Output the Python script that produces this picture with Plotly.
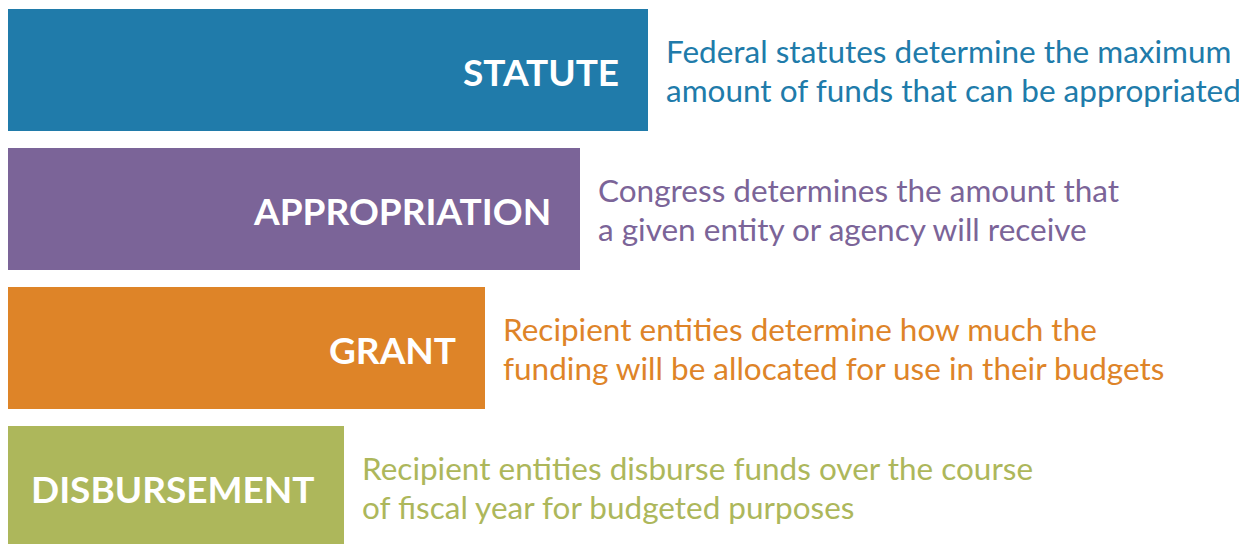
import plotly.graph_objects as go

stages = ["STATUTE", "APPROPRIATION", "GRANT", "DISBURSEMENT"]
lengths = [640, 572, 477, 336]
colors = ["#207BAA", "#7B6498", "#DE8428", "#ADB75B"]
desc_line1 = [
    "Federal statutes determine the maximum",
    "Congress determines the amount that",
    "Recipient entities determine how much the",
    "Recipient entities disburse funds over the course",
]
desc_line2 = [
    "amount of funds that can be appropriated",
    "a given entity or agency will receive",
    "funding will be allocated for use in their budgets",
    "of fiscal year for budgeted purposes",
]

ypos = list(range(len(stages)))

fig = go.Figure()
fig.add_trace(go.Bar(
    x=lengths, y=ypos, orientation="h",
    marker=dict(color=colors, line=dict(width=0)),
    width=0.878, hoverinfo="skip", showlegend=False,
))

annotations = []
for i, (s, l, c, d1, d2) in enumerate(zip(stages, lengths, colors, desc_line1, desc_line2)):
    annotations.append(dict(
        x=l, y=i, xref="x", yref="y", text="<b>" + s + "</b>",
        showarrow=False, xanchor="right", yanchor="middle", xshift=-27, yshift=-2,
        font=dict(family="Lato", size=37, color="white"),
    ))
    for txt, ys in ((d1, 19), (d2, -20)):
        annotations.append(dict(
            x=l, y=i, xref="x", yref="y", text=txt, align="left",
            showarrow=False, xanchor="left", yanchor="middle", xshift=16, yshift=ys,
            font=dict(family="Lato", size=31.5, color=c),
        ))

fig.update_layout(
    width=1247, height=544,
    margin=dict(l=0, r=0, t=0, b=0),
    paper_bgcolor="white", plot_bgcolor="white",
    xaxis=dict(range=[0, 1247], visible=False, fixedrange=True),
    yaxis=dict(range=[3.468, -0.446], visible=False, fixedrange=True),
    annotations=annotations,
    bargap=0,
)

fig.write_html("out.html", config={"displayModeBar": False})
